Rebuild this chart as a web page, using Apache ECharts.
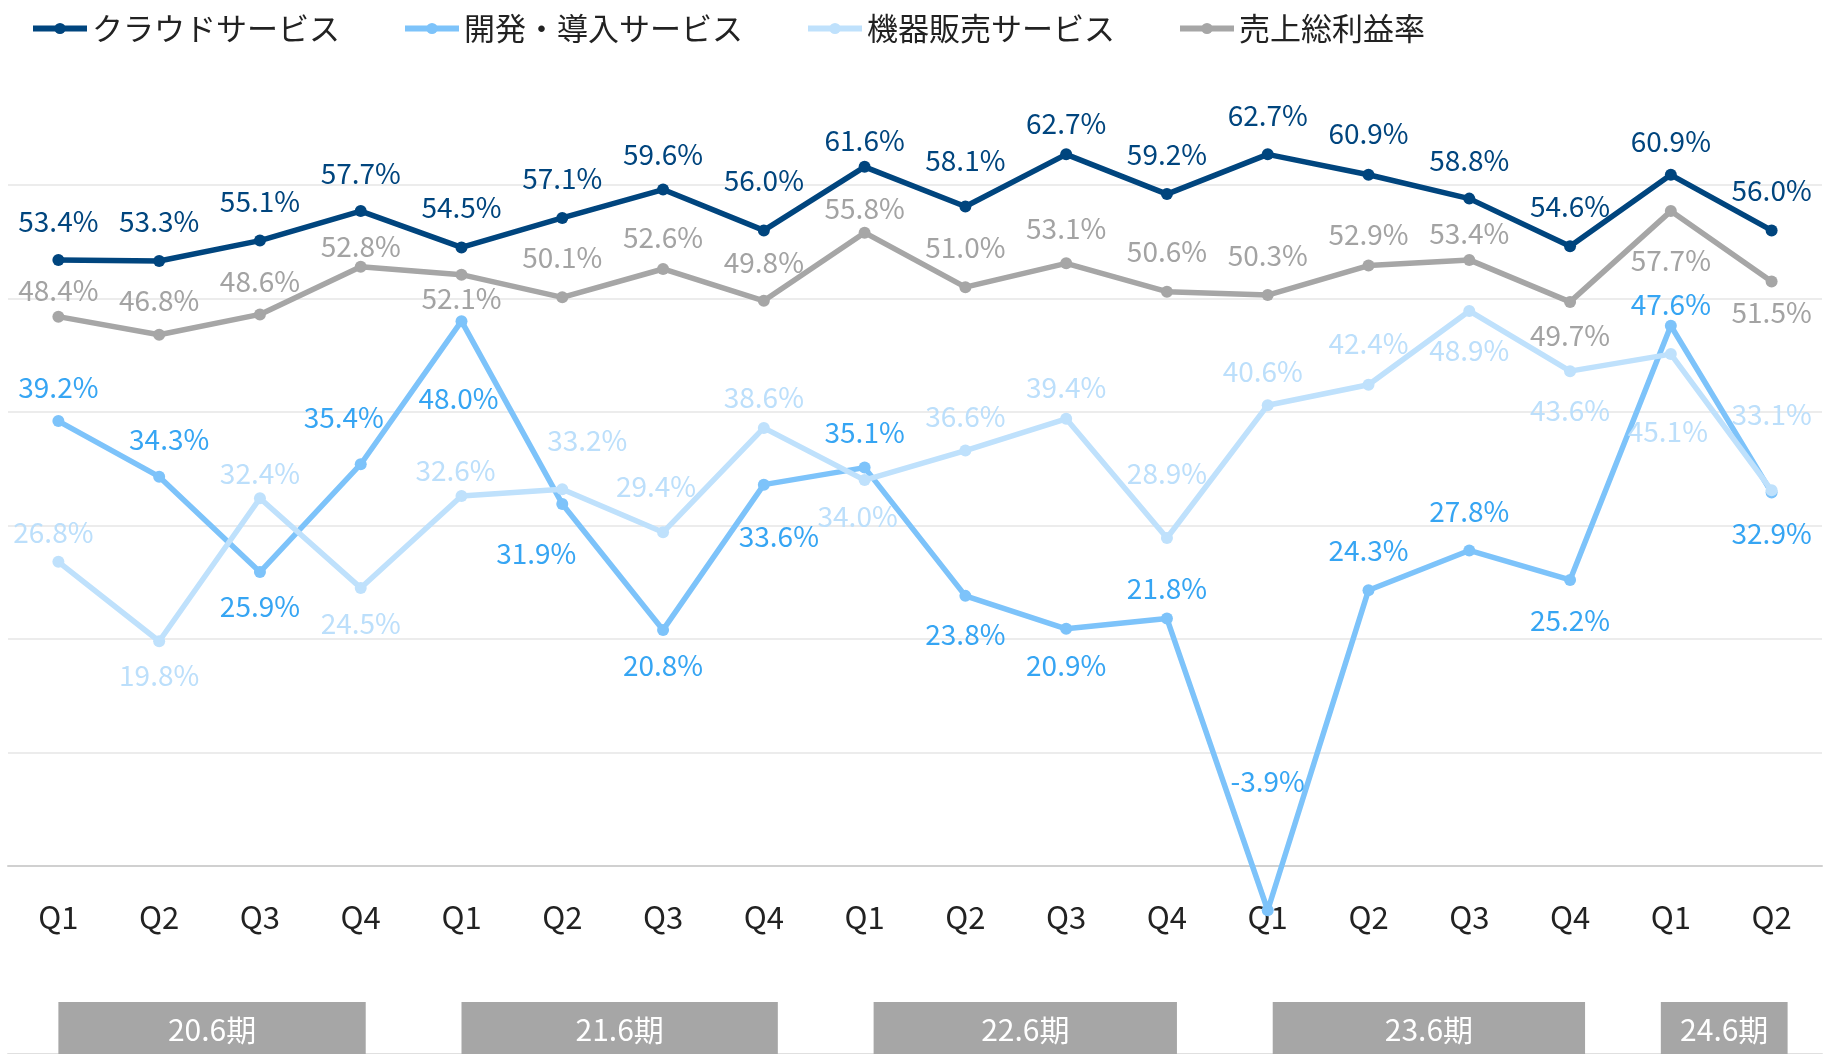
<!DOCTYPE html>
<html>
<head>
<meta charset="utf-8">
<script src="https://cdn.jsdelivr.net/npm/echarts@6/dist/echarts.min.js"></script>
<style>
  html, body { margin: 0; padding: 0; background: #fff; }
  #chart { width: 1825px; height: 1054px; }
</style>
</head>
<body>
<div id="chart"></div>
<script>
const FONT = '"Noto Sans CJK JP", "Noto Sans", sans-serif'

const quarters = ['Q1', 'Q2', 'Q3', 'Q4', 'Q1', 'Q2', 'Q3', 'Q4', 'Q1', 'Q2', 'Q3', 'Q4', 'Q1', 'Q2', 'Q3', 'Q4', 'Q1', 'Q2']
const seriesNames = ['クラウドサービス', '開発・導入サービス', '機器販売サービス', '売上総利益率']

const cloudValues = [53.4, 53.3, 55.1, 57.7, 54.5, 57.1, 59.6, 56.0, 61.6, 58.1, 62.7, 59.2, 62.7, 60.9, 58.8, 54.6, 60.9, 56.0]
const devValues = [39.2, 34.3, 25.9, 35.4, 48.0, 31.9, 20.8, 33.6, 35.1, 23.8, 20.9, 21.8, -3.9, 24.3, 27.8, 25.2, 47.6, 32.9]
const equipValues = [26.8, 19.8, 32.4, 24.5, 32.6, 33.2, 29.4, 38.6, 34.0, 36.6, 39.4, 28.9, 40.6, 42.4, 48.9, 43.6, 45.1, 33.1]
const grossValues = [48.4, 46.8, 48.6, 52.8, 52.1, 50.1, 52.6, 49.8, 55.8, 51.0, 53.1, 50.6, 50.3, 52.9, 53.4, 49.7, 57.7, 51.5]

const periodLabels = ['20.6期', '21.6期', '22.6期', '23.6期', '24.6期']
const periodFirst = [0, 4, 8, 12, 16]
const periodLast = [3, 7, 11, 15, 17]
// the grey period boxes don't line up exactly with the points, nudge them (px)
const bandPadLeft = [0, 0, -9, -5, 10]
const bandPadRight = [5, 14, 10, 15, 16]

// where each value label sits relative to its point (px)
const cloudLabelDx = [0, 0, 0, 0, 0, 0, 0, 0, 0, 0, 0, 0, 0, 0, 0, 0, 0, 0]
const cloudLabelDy = [-39, -40, -39, -38, -40, -40, -35, -50, -26, -46, -31, -40, -39, -41, -38, -40, -33, -40]
const devLabelDx = [0, 10, 0, -17, -3, -26, 0, 15, 0, 0, 0, 0, 0, 0, 0, 0, 0, 0]
const devLabelDy = [-34, -37, 34, -47, 77, 49, 35, 52, -35, 38, 37, -30, -129, -40, -39, 40, -21, 41]
const equipLabelDx = [-5, 0, 0, 0, -6, 25, -7, 0, -7, 0, 0, 0, -5, 0, 0, 0, -3, 0]
const equipLabelDy = [-29, 34, -25, 35, -26, -49, -46, -31, 36, -34, -31, -65, -34, -41, 39, 39, 77, -76]
const grossLabelDx = [0, 0, 0, 0, 0, 0, 0, 0, 0, 0, 0, 0, 0, 0, 0, 0, 0, 0]
const grossLabelDy = [-26, -34, -33, -20, 24, -40, -32, -38, -24, -40, -35, -40, -40, -31, -27, 33, 49, 31]

function lineSeries(name, values, lineColor, labelColor, dx, dy) {
  return {
    name: name,
    type: 'line',
    xAxisIndex: 0,
    yAxisIndex: 0,
    clip: false,
    symbol: 'circle',
    symbolSize: 12,
    lineStyle: { width: 5.5, color: lineColor },
    itemStyle: { color: lineColor },
    data: values.map((v, i) => ({ value: v, label: { offset: [dx[i], dy[i]] } })),
    label: {
      show: true,
      position: 'inside',
      color: labelColor,
      fontSize: 28,
      fontFamily: FONT,
      formatter: p => p.value.toFixed(1) + '%'
    },
    emphasis: { disabled: true }
  }
}

const chart = echarts.init(document.getElementById('chart'))

const option = {
  animation: false,
  textStyle: { fontFamily: FONT },
  legend: {
    data: seriesNames,
    left: 25,
    top: 8,
    itemWidth: 54,
    itemHeight: 14,
    itemGap: 62,
    lineStyle: { width: 6 },
    textStyle: { fontSize: 31, color: '#222', fontFamily: FONT }
  },
  grid: [
    { left: 8, right: 3, top: 185, bottom: 188 },
    { left: 8, right: 3, top: 979, bottom: 0 }
  ],
  xAxis: [
    {
      type: 'category',
      gridIndex: 0,
      data: quarters,
      axisLine: { lineStyle: { color: '#d0d0d0', width: 2 } },
      axisTick: { length: 12, lineStyle: { color: '#d0d0d0', width: 2 } },
      axisLabel: { fontSize: 31, color: '#222', margin: 36, fontFamily: FONT }
    },
    {
      type: 'category',
      gridIndex: 1,
      position: 'top',
      data: quarters,
      axisLine: { lineStyle: { color: '#e0e0e0', width: 2 } },
      axisTick: { show: false },
      axisLabel: { show: false }
    }
  ],
  yAxis: [
    {
      type: 'value',
      gridIndex: 0,
      min: 0,
      max: 60,
      interval: 10,
      axisLine: { show: false },
      axisTick: { show: false },
      axisLabel: { show: false },
      splitLine: { lineStyle: { color: '#ececec', width: 2 } }
    },
    { type: 'value', gridIndex: 1, min: 0, max: 1, show: false }
  ],
  series: [
    lineSeries(seriesNames[0], cloudValues, '#00457e', '#00457e', cloudLabelDx, cloudLabelDy),
    lineSeries(seriesNames[1], devValues, '#7dc3fa', '#36a5f3', devLabelDx, devLabelDy),
    lineSeries(seriesNames[2], equipValues, '#bfe1fc', '#bcdffb', equipLabelDx, equipLabelDy),
    lineSeries(seriesNames[3], grossValues, '#a6a6a6', '#a3a3a3', grossLabelDx, grossLabelDy),
    {
      type: 'custom',
      xAxisIndex: 1,
      yAxisIndex: 1,
      silent: true,
      data: periodFirst.map((f, i) => [f, periodLast[i], 0]),
      encode: { x: [0, 1], y: 2 },
      renderItem: function (params, api) {
        const i = params.dataIndex
        const x0 = api.coord([api.value(0), 0])[0] - bandPadLeft[i]
        const x1 = api.coord([api.value(1), 0])[0] + bandPadRight[i]
        const top = params.coordSys.y + 23
        return {
          type: 'group',
          children: [
            { type: 'rect', shape: { x: x0, y: top, width: x1 - x0, height: 60 }, style: { fill: '#a6a6a6' } },
            {
              type: 'text',
              style: {
                text: periodLabels[i],
                x: (x0 + x1) / 2,
                y: top + 28,
                align: 'center',
                verticalAlign: 'middle',
                fill: '#fff',
                fontSize: 30,
                fontFamily: FONT
              }
            }
          ]
        }
      }
    }
  ]
}

chart.setOption(option)
</script>
</body>
</html>
